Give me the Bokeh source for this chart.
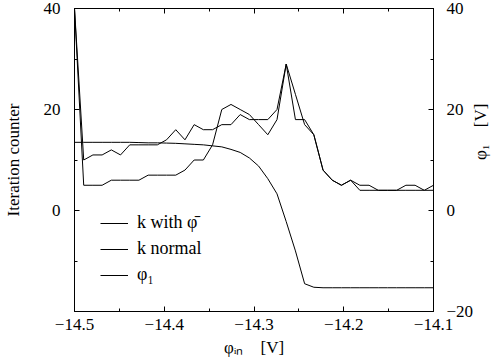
import math
import numpy as np
from bokeh.plotting import figure
from bokeh.models import (LinearAxis, Range1d, FixedTicker, Legend, LegendItem,
                          CustomJSTickFormatter)
from bokeh.embed import file_html
from bokeh.resources import INLINE

# ---- data ----
# input sweep: 40 equally spaced samples from -14.5 V to -14.1 V
phi_in = np.linspace(-14.5, -14.1, 40)

k_with_phibar = [40, 10, 11, 11, 12, 11, 13, 13, 13, 13,
                 14, 16, 14, 17, 16, 16, 17, 17, 19, 18,
                 18, 18, 20, 29, 18, 18, 15, 8, 6, 5,
                 6, 4, 4, 4, 4, 4, 4, 4, 4, 4]

k_normal = [40, 5, 5, 5, 6, 6, 6, 6, 7, 7,
            7, 7, 8, 10, 10, 13, 20, 21, 20, 19,
            17, 15, 18, 29, 23, 17, 15, 8, 6, 5,
            6, 5, 5, 4, 4, 4, 5, 5, 4, 5]

phi_1 = [13.5, 13.5, 13.5, 13.5, 13.5, 13.5, 13.5, 13.45, 13.4, 13.4,
         13.35, 13.3, 13.2, 13.1, 13.0, 12.8, 12.6, 12.1, 11.5, 10.4,
         8.8, 6.3, 3.3, -2.2, -8.0, -14.5, -15.2, -15.3, -15.3, -15.3,
         -15.3, -15.3, -15.3, -15.3, -15.3, -15.3, -15.3, -15.3, -15.3, -15.3]

series_labels = ["k with \u03c6\u0304", "k normal", "\u03c6\u2081"]

x_ticks = [-14.5, -14.4, -14.3, -14.2, -14.1]
x_tick_labels = ["\u221214.5", "\u221214.4", "\u221214.3", "\u221214.2", "\u221214.1"]
x_minor = [-14.45, -14.35, -14.25, -14.15]

k_ticks = [0, 20, 40]
k_tick_labels = ["0", "20", "40"]
k_minor = [-10, 10, 30]

phi_ticks = [-20, 0, 20, 40]
phi_tick_labels = ["\u221220", "0", "20", "40"]
phi_minor = [-10, 10, 30]

FONT = "Liberation Serif"
FS = "17px"
NB = "\u00a0"


def fmt(tick_values, labels):
    return CustomJSTickFormatter(
        args=dict(tv=tick_values, tl=labels),
        code="const i = tv.findIndex(t => Math.abs(t - tick) < 1e-9);"
             "return i >= 0 ? tl[i] : '';")


def style(ax, tick_values, minor, labels, standoff):
    ax.ticker = FixedTicker(ticks=tick_values, minor_ticks=minor)
    ax.formatter = fmt(tick_values, labels)
    ax.major_tick_in = 5
    ax.major_tick_out = 0
    ax.minor_tick_in = 3
    ax.minor_tick_out = 0
    ax.axis_line_color = "black"
    ax.major_tick_line_color = "black"
    ax.minor_tick_line_color = "black"
    ax.major_label_text_font = FONT
    ax.major_label_text_font_size = FS
    ax.major_label_text_color = "black"
    ax.major_label_standoff = standoff
    ax.axis_label_text_font = FONT
    ax.axis_label_text_font_size = FS
    ax.axis_label_text_font_style = "normal"
    ax.axis_label_text_color = "black"


p = figure(width=502, height=364,
           x_range=Range1d(-14.5, -14.1), y_range=Range1d(-20, 40),
           output_backend="svg", toolbar_location=None,
           x_axis_location=None, y_axis_location=None,
           min_border_left=71, min_border_right=64,
           min_border_top=8, min_border_bottom=53)
p.extra_y_ranges = {"phi": Range1d(-20, 40)}
p.grid.visible = False
p.outline_line_color = "black"
p.outline_line_width = 1
p.background_fill_color = "white"
p.border_fill_color = "white"

# bottom axis
xb = LinearAxis(axis_label="\u03c6\u1d62\u2099" + NB * 4 + "[V]")
style(xb, x_ticks, x_minor, x_tick_labels, 7)
xb.axis_label_standoff = 5
p.add_layout(xb, "below")

# top axis (ticks only)
xt = LinearAxis()
style(xt, x_ticks, x_minor, ["" for _ in x_ticks], 0)
xt.major_label_text_font_size = "0px"
p.add_layout(xt, "above")

# left axis
yl = LinearAxis(axis_label="Iteration counter")
style(yl, k_ticks, k_minor, k_tick_labels, 14)
yl.axis_label_standoff = 18
p.add_layout(yl, "left")

# right axis
yr = LinearAxis(y_range_name="phi", axis_label="\u03c6\u2081" + NB * 4 + "[V]")
style(yr, phi_ticks, phi_minor, phi_tick_labels, 13)
yr.axis_label_standoff = 4
if "axis_label_orientation" in yr.properties():
    yr.axis_label_orientation = math.pi / 2
p.add_layout(yr, "right")

r1 = p.line(phi_in, k_with_phibar, line_color="black", line_width=1)
r2 = p.line(phi_in, k_normal, line_color="black", line_width=1)
r3 = p.line(phi_in, phi_1, line_color="black", line_width=1, y_range_name="phi")

legend = Legend(items=[LegendItem(label=series_labels[0], renderers=[r1]),
                       LegendItem(label=series_labels[1], renderers=[r2]),
                       LegendItem(label=series_labels[2], renderers=[r3])],
                location=(26, 26),
                glyph_width=28, glyph_height=20, label_height=20,
                label_standoff=9, spacing=5, padding=0, margin=0,
                border_line_alpha=0, background_fill_alpha=0,
                label_text_font=FONT, label_text_font_size="18px",
                label_text_color="black")
p.add_layout(legend)

open("out.html", "w").write(file_html(p, INLINE))
